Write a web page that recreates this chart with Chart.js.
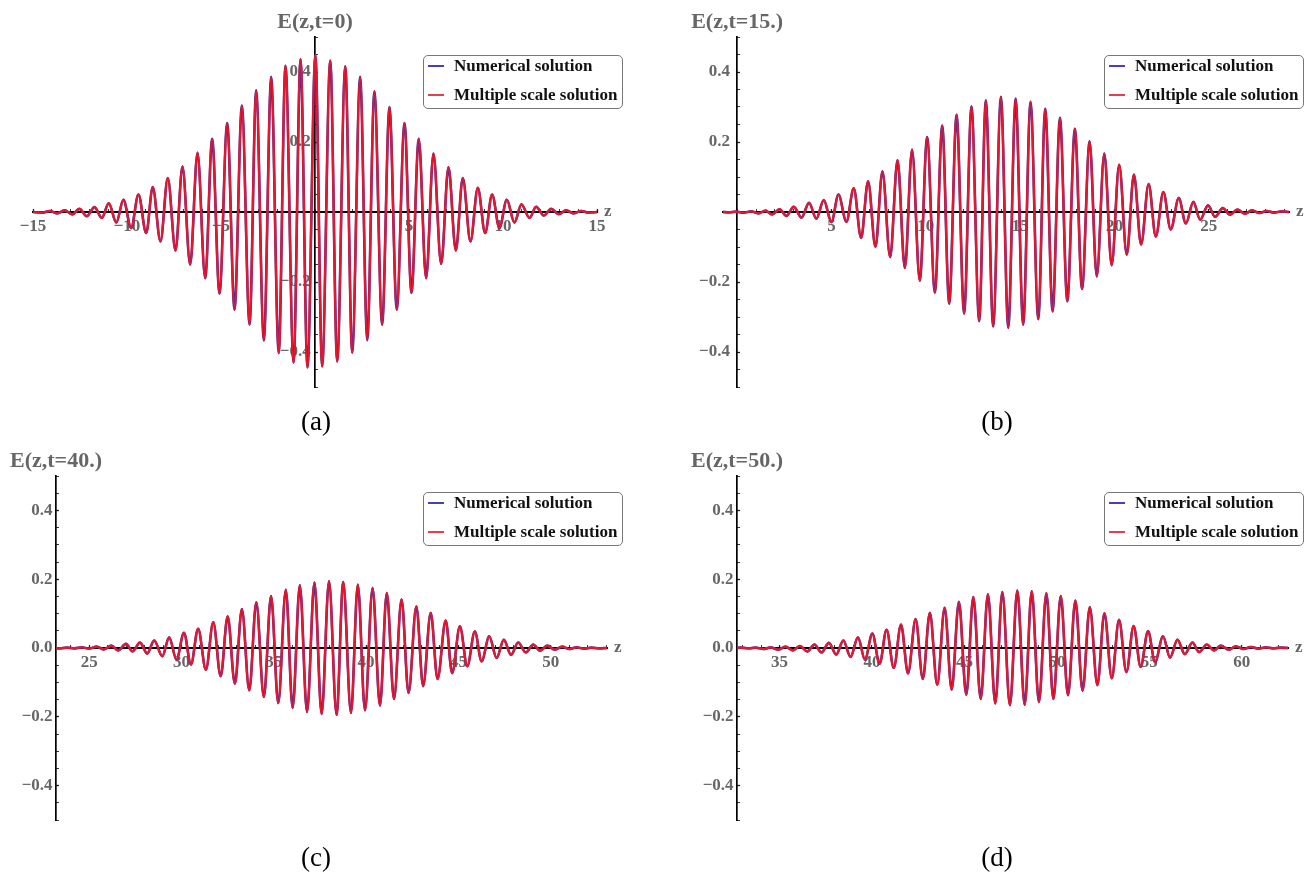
<!DOCTYPE html>
<html>
<head>
<meta charset="utf-8">
<title>E(z,t) wave packets</title>
<script src="https://cdn.jsdelivr.net/npm/chart.js@4.4.0/dist/chart.umd.min.js"></script>
<style>
  body { margin: 0; background: #fff; width: 1311px; height: 873px; position: relative; overflow: hidden;
         font-family: "Liberation Serif", "Times New Roman", serif; }
  canvas { position: absolute; }
  .legend { position: absolute; width: 198px; height: 52px; border: 1px solid #777; border-radius: 5px;
            background: #fff; font-weight: bold; font-size: 17px; color: #111; }
  .legend .row { position: absolute; left: 0; height: 20px; line-height: 20px; white-space: nowrap; width: 198px; }
  .legend .swatch { position: absolute; left: 4px; top: 9px; width: 16px; height: 2px; }
  .legend .txt { position: absolute; left: 30px; top: 0; }
  .caption { position: absolute; width: 80px; font-size: 27px; line-height: 30px; text-align: center; color: #000; }
</style>
</head>
<body>
<script>
// field extrema along z, [z, E] pairs, one list per snapshot
const waveA = [
  [-15.0, 0], [-14.5, -0.002], [-14.1, 0.003], [-13.71, -0.004], [-13.32, 0.005], [-12.91, -0.007],
  [-12.53, 0.009], [-12.14, -0.012], [-11.73, 0.014], [-11.34, -0.017], [-10.97, 0.025], [-10.57, -0.030],
  [-10.19, 0.035], [-9.78, -0.046], [-9.39, 0.050], [-8.98, -0.060], [-8.63, 0.071], [-8.22, -0.084],
  [-7.83, 0.097], [-7.42, -0.110], [-7.05, 0.130], [-6.64, -0.150], [-6.25, 0.169], [-5.84, -0.189],
  [-5.47, 0.209], [-5.08, -0.233], [-4.67, 0.254], [-4.28, -0.279], [-3.89, 0.304], [-3.48, -0.322],
  [-3.13, 0.348], [-2.72, -0.367], [-2.33, 0.386], [-1.93, -0.403], [-1.57, 0.418], [-1.14, -0.430],
  [-0.77, 0.437], [-0.40, -0.444], [0.02, 0.449], [0.38, -0.441], [0.81, 0.433], [1.18, -0.427],
  [1.61, 0.416], [1.98, -0.402], [2.40, 0.386], [2.78, -0.366], [3.16, 0.345], [3.57, -0.322],
  [3.96, 0.300], [4.35, -0.279], [4.76, 0.254], [5.13, -0.231], [5.52, 0.209], [5.91, -0.189],
  [6.30, 0.167], [6.71, -0.148], [7.10, 0.128], [7.49, -0.110], [7.86, 0.097], [8.27, -0.084],
  [8.66, 0.069], [9.05, -0.060], [9.42, 0.050], [9.81, -0.046], [10.20, 0.035], [10.61, -0.030],
  [10.98, 0.022], [11.41, -0.017], [11.76, 0.015], [12.17, -0.010], [12.56, 0.009], [12.97, -0.006],
  [13.36, 0.005], [13.75, -0.004], [14.16, 0.003], [14.55, -0.002], [15.0, 0]
];
const waveB = [
  [-0.75, 0], [-0.42, -0.001], [-0.05, 0.001], [0.35, -0.002], [0.75, 0.002], [1.13, -0.004],
  [1.50, 0.004], [1.85, -0.007], [2.25, 0.008], [2.61, -0.011], [3.00, 0.015], [3.41, -0.016],
  [3.81, 0.026], [4.20, -0.019], [4.59, 0.034], [5.00, -0.029], [5.37, 0.050], [5.79, -0.028],
  [6.18, 0.068], [6.57, -0.074], [6.94, 0.088], [7.33, -0.100], [7.70, 0.116], [8.11, -0.129],
  [8.50, 0.148], [8.89, -0.160], [9.27, 0.178], [9.68, -0.196], [10.07, 0.214], [10.48, -0.230],
  [10.87, 0.247], [11.24, -0.262], [11.63, 0.278], [12.03, -0.290], [12.42, 0.302], [12.83, -0.312],
  [13.18, 0.319], [13.57, -0.327], [13.98, 0.329], [14.37, -0.331], [14.76, 0.324], [15.16, -0.322],
  [15.55, 0.315], [15.96, -0.306], [16.33, 0.295], [16.72, -0.284], [17.11, 0.269], [17.50, -0.255],
  [17.90, 0.238], [18.28, -0.220], [18.68, 0.202], [19.06, -0.184], [19.46, 0.167], [19.85, -0.152],
  [20.25, 0.135], [20.65, -0.122], [21.03, 0.107], [21.41, -0.093], [21.81, 0.080], [22.19, -0.070],
  [22.59, 0.057], [22.98, -0.050], [23.41, 0.040], [23.78, -0.033], [24.18, 0.029], [24.54, -0.022],
  [24.96, 0.019], [25.33, -0.014], [25.74, 0.011], [26.13, -0.008], [26.51, 0.007], [26.92, -0.005],
  [27.29, 0.005], [27.68, -0.003], [28.07, 0.003], [28.46, -0.002], [28.85, 0.002], [29.25, 0]
];
const waveC = [
  [23.0, 0], [23.4, -0.001], [23.8, 0.001], [24.2, -0.001], [24.6, 0.002], [25.0, -0.002],
  [25.4, 0.004], [25.80, -0.004], [26.2, 0.007], [26.57, -0.007], [26.99, 0.012], [27.35, -0.010],
  [27.75, 0.016], [28.14, -0.016], [28.52, 0.022], [28.96, -0.024], [29.33, 0.031], [29.73, -0.034],
  [30.13, 0.044], [30.51, -0.048], [30.90, 0.056], [31.32, -0.063], [31.72, 0.075], [32.12, -0.082],
  [32.50, 0.092], [32.89, -0.104], [33.27, 0.113], [33.67, -0.123], [34.05, 0.133], [34.46, -0.142],
  [34.85, 0.151], [35.24, -0.160], [35.65, 0.169], [36.02, -0.174], [36.41, 0.182], [36.80, -0.186],
  [37.20, 0.190], [37.59, -0.192], [37.99, 0.194], [38.40, -0.194], [38.76, 0.192], [39.18, -0.189],
  [39.55, 0.184], [39.94, -0.181], [40.35, 0.174], [40.75, -0.167], [41.12, 0.160], [41.51, -0.148],
  [41.92, 0.141], [42.30, -0.131], [42.72, 0.121], [43.09, -0.111], [43.50, 0.102], [43.87, -0.090],
  [44.31, 0.080], [44.66, -0.073], [45.08, 0.063], [45.48, -0.053], [45.89, 0.048], [46.26, -0.039],
  [46.67, 0.034], [47.07, -0.029], [47.46, 0.024], [47.85, -0.020], [48.24, 0.016], [48.65, -0.013],
  [49.05, 0.010], [49.43, -0.008], [49.81, 0.007], [50.22, -0.005], [50.62, 0.004], [51.0, -0.003],
  [51.40, 0.002], [51.8, -0.002], [52.2, 0.001], [52.6, -0.001], [53.05, 0]
];
const waveD = [
  [32.5, 0], [32.9, 0.001], [33.35, -0.001], [33.7, 0.001], [34.15, -0.003], [34.51, 0.002],
  [34.93, -0.005], [35.32, 0.004], [35.72, -0.007], [36.10, 0.006], [36.50, -0.010], [36.89, 0.010],
  [37.27, -0.013], [37.67, 0.015], [38.07, -0.019], [38.45, 0.022], [38.84, -0.026], [39.24, 0.031],
  [39.62, -0.034], [40.02, 0.042], [40.41, -0.046], [40.79, 0.053], [41.18, -0.058], [41.57, 0.068],
  [41.95, -0.074], [42.36, 0.084], [42.75, -0.090], [43.13, 0.102], [43.53, -0.107], [43.93, 0.117],
  [44.31, -0.121], [44.70, 0.134], [45.10, -0.136], [45.48, 0.148], [45.88, -0.148], [46.27, 0.156],
  [46.67, -0.161], [47.05, 0.163], [47.46, -0.166], [47.86, 0.167], [48.26, -0.165], [48.64, 0.165],
  [49.03, -0.157], [49.43, 0.159], [49.81, -0.148], [50.21, 0.151], [50.60, -0.137], [51.0, 0.138],
  [51.39, -0.124], [51.78, 0.119], [52.19, -0.108], [52.57, 0.101], [52.97, -0.088], [53.36, 0.082],
  [53.76, -0.070], [54.15, 0.064], [54.53, -0.055], [54.93, 0.049], [55.31, -0.041], [55.74, 0.034],
  [56.12, -0.028], [56.52, 0.024], [56.92, -0.018], [57.33, 0.016], [57.69, -0.012], [58.11, 0.010],
  [58.50, -0.007], [58.86, 0.007], [59.3, -0.005], [59.68, 0.005], [60.1, -0.003], [60.49, 0.003],
  [60.9, -0.002], [61.3, 0.002], [61.7, -0.001], [62.1, 0.001], [62.5, 0]
];

const titles = ['E(z,t=0)', 'E(z,t=15.)', 'E(z,t=40.)', 'E(z,t=50.)'];
const captions = ['(a)', '(b)', '(c)', '(d)'];
const seriesLabels = ['Numerical solution', 'Multiple scale solution'];

const xRangeA = [-15, 15];
const xRangeB = [-0.75, 29.25];
const xRangeC = [23.2, 53.05];
const xRangeD = [32.7, 62.5];

const xLabelsA = [-15, -10, -5, 5, 10, 15];
const xLabelsB = [5, 10, 15, 20, 25];
const xLabelsC = [25, 30, 35, 40, 45, 50];
const xLabelsD = [35, 40, 45, 50, 55, 60];
const yLabelsAB = [-0.4, -0.2, 0.2, 0.4];
const yLabelsCD = [-0.4, -0.2, 0, 0.2, 0.4];

const BLUE = '#3a2c9c';
const RED = '#e5172f';
const FONT = '"Liberation Serif", "Times New Roman", serif';

const minus = s => s.replace('-', '\u2212');

// title above the vertical axis and "z" after the end of the horizontal one
const axisNames = {
  id: 'axisNames',
  afterDraw(chart, args, opts) {
    const {ctx, chartArea, scales} = chart;
    const axisX = scales.x.getPixelForValue(opts.axisAt);
    const zeroY = scales.y.getPixelForValue(0);
    ctx.save();
    ctx.fillStyle = '#666';
    ctx.font = 'bold 22px ' + FONT;
    ctx.textAlign = 'center';
    ctx.textBaseline = 'alphabetic';
    ctx.fillText(opts.title, axisX, chartArea.top - 9);
    ctx.font = 'bold 17px ' + FONT;
    ctx.textAlign = 'left';
    ctx.textBaseline = 'middle';
    ctx.fillText('z', chartArea.right + 7, zeroY);
    ctx.restore();
  }
};

// the vertical axis sits at z = 0 when that is in range, else at the left end
const panels = [
  {left: 0, top: 0, width: 655, height: 430, pad: {left: 33, right: 58, top: 37, bottom: 43},
   wave: waveA, range: xRangeA, xLabels: xLabelsA, yLabels: yLabelsAB, axisAt: 0, gap: ' ',
   legend: [423, 55], caption: [316, 421]},
  {left: 655, top: 0, width: 656, height: 430, pad: {left: 68, right: 22, top: 37, bottom: 43},
   wave: waveB, range: xRangeB, xLabels: xLabelsB, yLabels: yLabelsAB, axisAt: 0, gap: ' \u200a\u200a',
   legend: [1104, 55], caption: [997, 421]},
  {left: 0, top: 430, width: 655, height: 443, pad: {left: 56, right: 48, top: 46, bottom: 53},
   wave: waveC, range: xRangeC, xLabels: xLabelsC, yLabels: yLabelsCD, axisAt: xRangeC[0], gap: '\u2009',
   legend: [423, 492], caption: [316, 857]},
  {left: 655, top: 430, width: 656, height: 443, pad: {left: 82, right: 23, top: 46, bottom: 53},
   wave: waveD, range: xRangeD, xLabels: xLabelsD, yLabels: yLabelsCD, axisAt: xRangeD[0], gap: '\u2009',
   legend: [1104, 492], caption: [997, 857]}
];

function addLegend(x, y) {
  const box = document.createElement('div');
  box.className = 'legend';
  box.style.left = x + 'px';
  box.style.top = y + 'px';
  ['#4a3fb8', '#e2404f'].forEach((color, i) => {
    const row = document.createElement('div');
    row.className = 'row';
    row.style.top = (i * 29) + 'px';
    row.innerHTML = '<span class="swatch" style="background:' + color + '"></span>' +
      '<span class="txt">' + seriesLabels[i] + '</span>';
    box.appendChild(row);
  });
  document.body.appendChild(box);
}

function addCaption(text, cx, cy) {
  const el = document.createElement('div');
  el.className = 'caption';
  el.textContent = text;
  el.style.left = (cx - 40) + 'px';
  el.style.top = (cy - 15) + 'px';
  document.body.appendChild(el);
}

panels.forEach((p, idx) => {
  const canvas = document.createElement('canvas');
  canvas.width = p.width;
  canvas.height = p.height;
  canvas.style.left = p.left + 'px';
  canvas.style.top = p.top + 'px';
  document.body.appendChild(canvas);

  // minor ticks every unit in z and every 0.05 in E
  const xTicks = [];
  for (let v = Math.ceil(p.range[0]); v <= Math.floor(p.range[1]); v++) xTicks.push(v);
  const yTicks = [];
  for (let k = -10; k <= 10; k++) yTicks.push(k / 20);

  const isXLabel = v => p.xLabels.includes(Math.round(v));
  const isYLabel = v => p.yLabels.some(l => Math.round(l * 100) === Math.round(v * 100));
  const tickFont = {family: FONT, size: 17, weight: 'bold'};

  const yScale = {
    type: 'linear', min: -0.5, max: 0.5,
    position: {x: p.axisAt},
    afterBuildTicks: s => { s.ticks = yTicks.map(v => ({value: v})); },
    afterFit: s => { s.width = 0; },
    grid: {
      drawOnChartArea: false, tickLength: -4, tickColor: '#222',
      tickWidth: c => (c.tick && isYLabel(c.tick.value)) ? 1.3 : 0.9
    },
    border: {display: true, color: '#000', width: 1.7},
    ticks: {
      autoSkip: false, color: '#666', font: tickFont,
      callback: v => isYLabel(v) ? minus((Math.round(v * 100) / 100).toFixed(1)) + p.gap : ''
    }
  };

  const xScale = {
    type: 'linear', min: p.range[0], max: p.range[1],
    position: {y: 0},
    afterBuildTicks: s => { s.ticks = xTicks.map(v => ({value: v})); },
    afterFit: s => { s.height = 0; },
    grid: {
      drawOnChartArea: false, tickLength: -4, tickColor: '#222',
      tickWidth: c => (c.tick && isXLabel(c.tick.value)) ? 1.3 : 0.9
    },
    border: {display: true, color: '#000', width: 2},
    ticks: {
      autoSkip: false, maxRotation: 0, padding: 8, color: '#666', font: tickFont,
      callback: v => isXLabel(v) ? minus(String(Math.round(v))) : ''
    }
  };

  new Chart(canvas, {
    type: 'line',
    data: {
      datasets: [
        {label: seriesLabels[1], data: p.wave.map(([z, e]) => ({x: z, y: e})),
         borderColor: RED, borderWidth: 2.3, order: 0},
        {label: seriesLabels[0], data: p.wave.map(([z, e]) => ({x: z, y: e})),
         borderColor: BLUE, borderWidth: 2.6, order: 1}
      ]
    },
    options: {
      responsive: false,
      animation: false,
      layout: {padding: p.pad},
      elements: {
        point: {radius: 0, hitRadius: 0},
        line: {cubicInterpolationMode: 'monotone', fill: false}
      },
      scales: {x: xScale, y: yScale},
      plugins: {
        legend: {display: false},
        tooltip: {enabled: false},
        axisNames: {title: titles[idx], axisAt: p.axisAt}
      }
    },
    plugins: [axisNames]
  });

  addLegend(p.legend[0], p.legend[1]);
  addCaption(captions[idx], p.caption[0], p.caption[1]);
});
</script>
</body>
</html>
